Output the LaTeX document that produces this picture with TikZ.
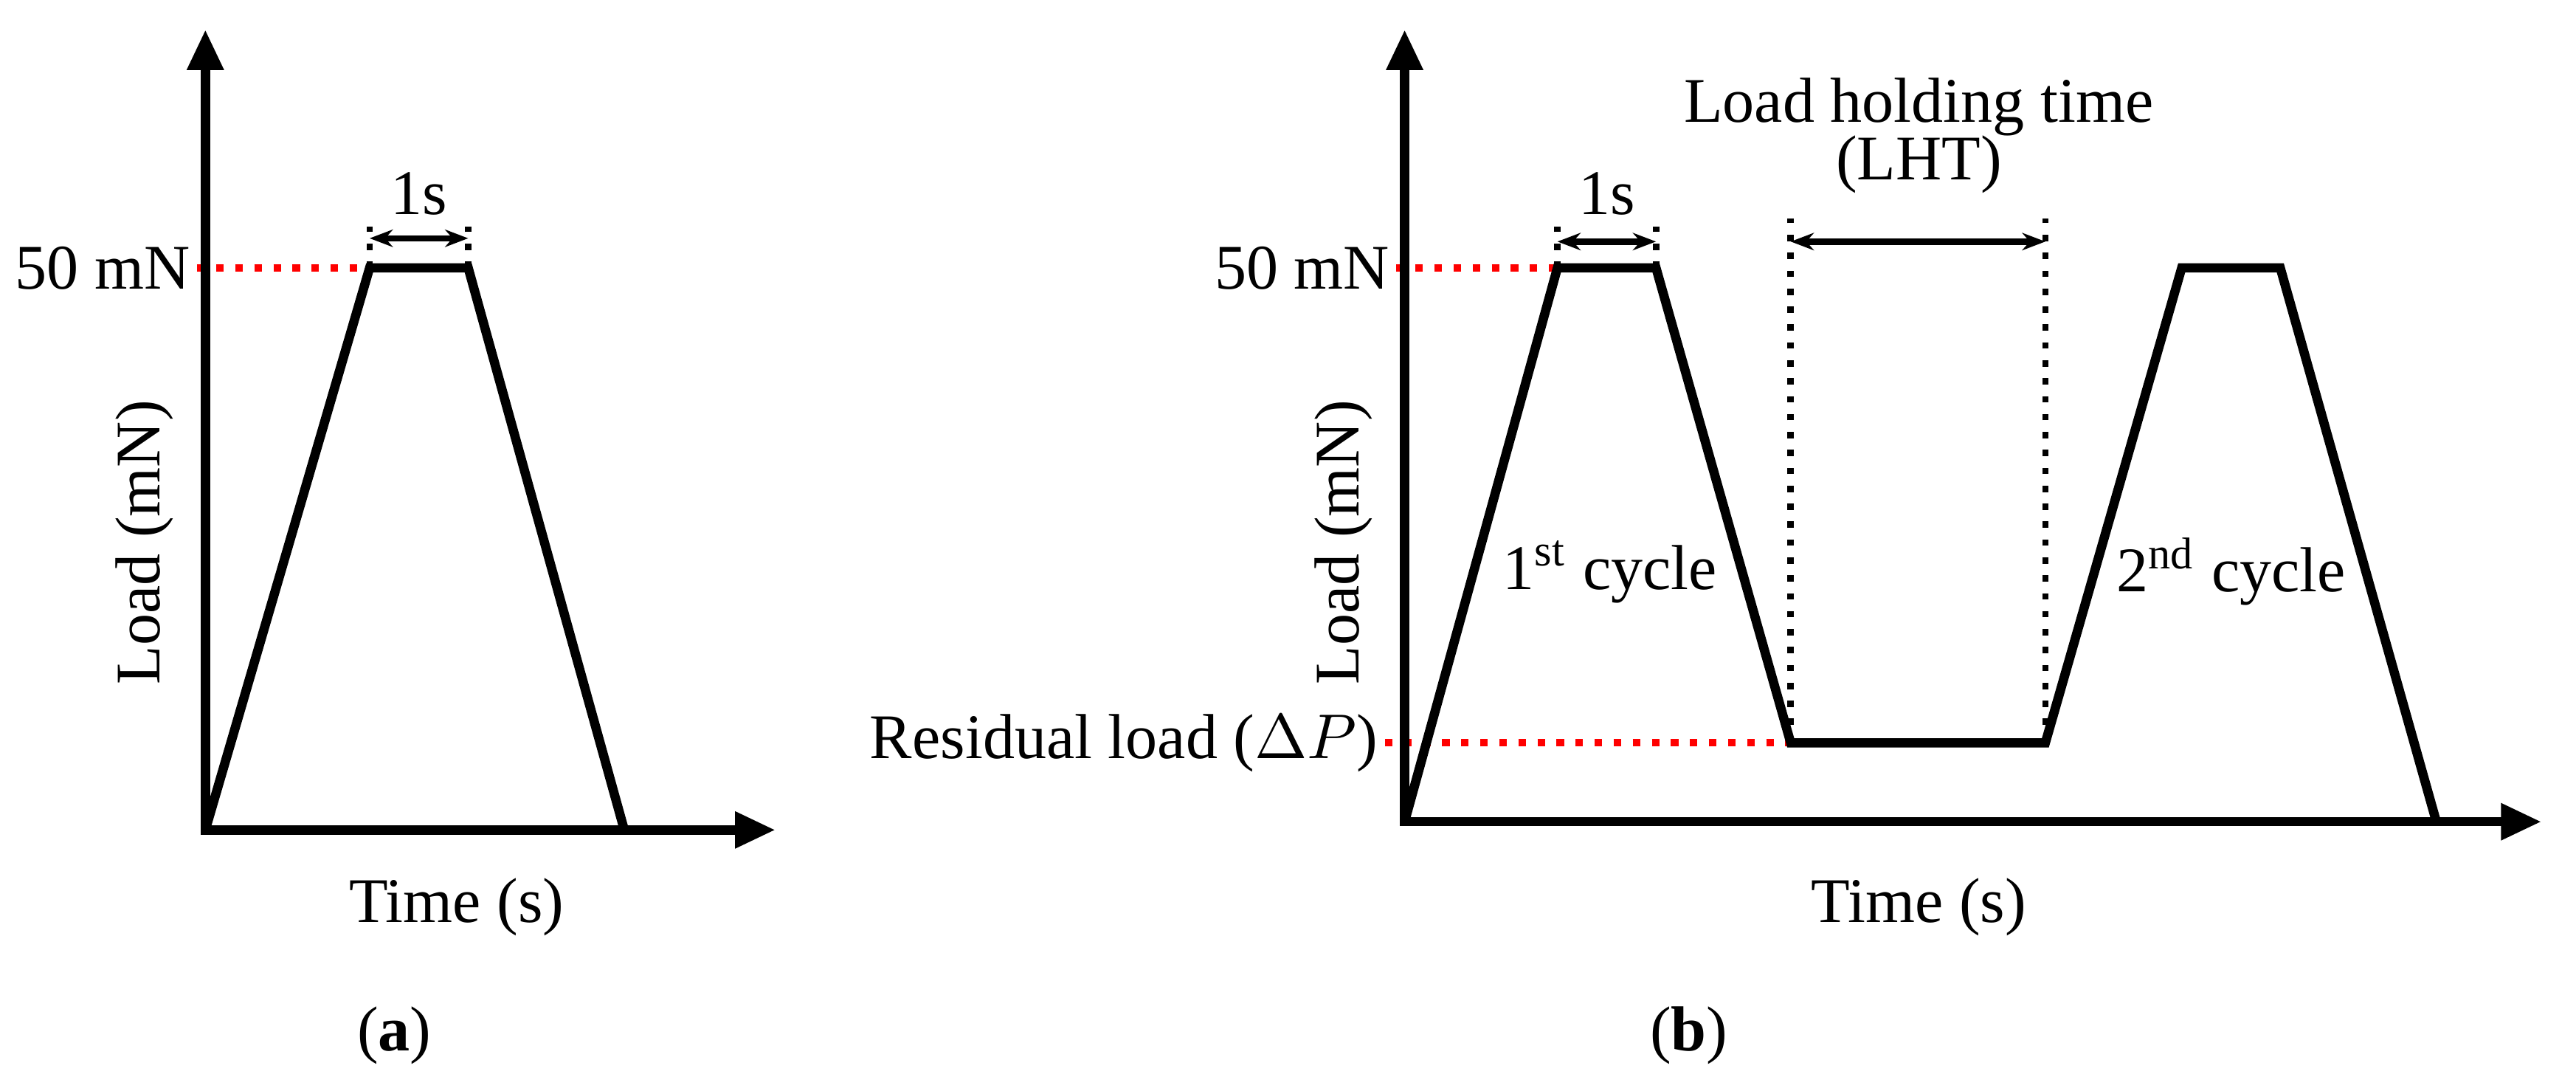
\documentclass[tikz,border=0pt]{standalone}
\usepackage{fontspec}
\setmainfont{Liberation Serif}
\usetikzlibrary{arrows.meta}
\tikzstyle{axis} = [line width=1.6pt,-{Triangle[length=7pt,width=6pt]}]
\tikzstyle{curve} = [line width=1.6pt,line join=miter]
\tikzstyle{level} = [red,line width=1.3pt,dotted]
\tikzstyle{guide} = [black,line width=1.1pt,dotted]
\tikzstyle{span} = [line width=1.1pt,{Stealth[length=4pt]}-{Stealth[length=4pt]}]
\tikzstyle{txt} = [font=\fontsize{11pt}{13pt}\selectfont,inner sep=1pt]
\begin{document}
\begin{tikzpicture}[x=0.01cm,y=-0.01cm]
\useasboundingbox (0,0) rectangle (1568,655);
% (a)
\coordinate (oa) at (125,505);
\coordinate (a1) at (225,163);
\coordinate (a2) at (285,163);
\coordinate (a3) at (380,505);
\coordinate (ya) at (125,18);
\coordinate (xa) at (472,505);
\node (fa) [txt,anchor=east] at (120,163) {50 mN};
\node (la) [txt,rotate=90] at (88,330) {Load (mN)};
\node (ta) [txt] at (278,552) {Time (s)};
\node (capa) [txt] at (240,630) {(\textbf{a})};
\node (sa) [txt] at (255,118) {1s};
\draw [level] (fa.east) -- (a1);
\draw [guide] (a1) -- ++(0,-25);
\draw [guide] (a2) -- ++(0,-25);
\draw [span] (225,145) -- (285,145);
\draw [curve] (oa) -- (a1) -- (a2) -- (a3);
\draw [axis] (oa) -- (ya);
\draw [axis] ([xshift=-0.8pt]oa) -- (xa);
% (b)
\coordinate (ob) at (855,500);
\coordinate (b1) at (948,163);
\coordinate (b2) at (1008,163);
\coordinate (b3) at (1090,452);
\coordinate (b4) at (1245,452);
\coordinate (b5) at (1328,163);
\coordinate (b6) at (1388,163);
\coordinate (b7) at (1483,500);
\coordinate (yb) at (855,18);
\coordinate (xb) at (1547,500);
\node (fb) [txt,anchor=east] at (850,163) {50 mN};
\node (rb) [txt,anchor=east] at (843,452) {Residual load ($\Delta P$)};
\node (lb) [txt,rotate=90] at (818,330) {Load (mN)};
\node (tb) [txt] at (1168,552) {Time (s)};
\node (capb) [txt] at (1028,630) {(\textbf{b})};
\node (sb) [txt] at (978,118) {1s};
\node (hb) [txt] at (1168,65) {Load holding time};
\node (hb2) [txt] at (1168,100) {(LHT)};
\node (c1) [txt] at (980,348) {1\textsuperscript{st} cycle};
\node (c2) [txt] at (1358,348) {2\textsuperscript{nd} cycle};
\draw [level] (fb.east) -- (b1);
\draw [level] (rb.east) -- (b3);
\draw [guide] (b1) -- ++(0,-25);
\draw [guide] (b2) -- ++(0,-25);
\draw [span] (948,147) -- (1008,147);
\draw [guide] (b3) -- (1090,133);
\draw [guide] (b4) -- (1245,133);
\draw [span] (1090,147) -- (1245,147);
\draw [curve] (ob) -- (b1) -- (b2) -- (b3) -- (b4) -- (b5) -- (b6) -- (b7);
\draw [axis] (ob) -- (yb);
\draw [axis] ([xshift=-0.8pt]ob) -- (xb);
\end{tikzpicture}
\end{document}
